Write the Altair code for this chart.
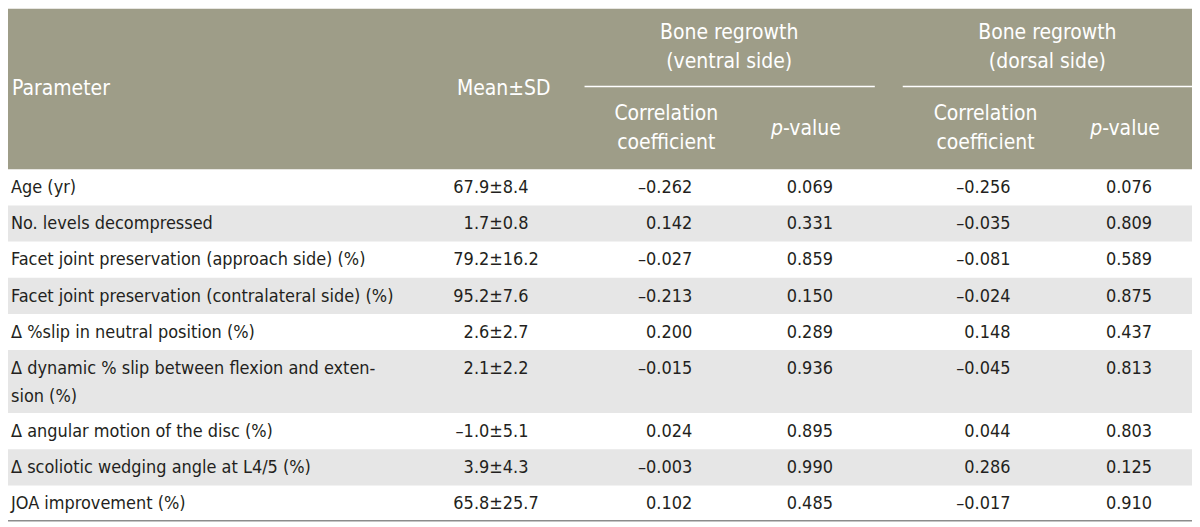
import altair as alt
import pandas as pd

# ---------------- data ----------------
parameters = [
    "Age (yr)",
    "No. levels decompressed",
    "Facet joint preservation (approach side) (%)",
    "Facet joint preservation (contralateral side) (%)",
    "Δ %slip in neutral position (%)",
    "Δ dynamic % slip between flexion and exten-\nsion (%)",
    "Δ angular motion of the disc (%)",
    "Δ scoliotic wedging angle at L4/5 (%)",
    "JOA improvement (%)",
]
means = ["67.9", "1.7", "79.2", "95.2", "2.6", "2.1", "–1.0", "3.9", "65.8"]
sds = ["8.4", "0.8", "16.2", "7.6", "2.7", "2.2", "5.1", "4.3", "25.7"]
corr_ventral = ["–0.262", "0.142", "–0.027", "–0.213", "0.200", "–0.015", "0.024", "–0.003", "0.102"]
p_ventral = ["0.069", "0.331", "0.859", "0.150", "0.289", "0.936", "0.895", "0.990", "0.485"]
corr_dorsal = ["–0.256", "–0.035", "–0.081", "–0.024", "0.148", "–0.045", "0.044", "0.286", "–0.017"]
p_dorsal = ["0.076", "0.809", "0.589", "0.875", "0.437", "0.813", "0.803", "0.125", "0.910"]

header_main = ["Parameter", "Mean±SD"]
group_titles = [["Bone regrowth", "(ventral side)"], ["Bone regrowth", "(dorsal side)"]]
sub_titles = [["Correlation", "coefficient"], ["p", "-value"]]

# ---------------- layout ----------------
HDR = "#9e9d88"
STRIPE = "#e6e6e6"
TXT = "#231f20"
BODY_FONT = "DejaVu Sans Condensed, sans-serif"
HEAD_FONT = "DejaVu Sans Condensed, sans-serif"
BODY_SIZE = 18
HEAD_SIZE = 21

LEFT, RIGHT, TOP = 8, 1195, 8     # page margin: table starts at the view origin
HEAD_BOTTOM = 169
BOTTOM = 522

xs = alt.Scale(domain=[LEFT, RIGHT], nice=False, zero=False)
ys = alt.Scale(domain=[TOP, BOTTOM], nice=False, zero=False, reverse=True)


def X(f):
    return alt.X(f, type="quantitative", scale=xs, axis=None)


def Y(f):
    return alt.Y(f, type="quantitative", scale=ys, axis=None)


# rows
row_recs, param_lines, num_cells = [], [], []
top = HEAD_BOTTOM
num_cols = [(corr_ventral, 694), (p_ventral, 835), (corr_dorsal, 1013), (p_dorsal, 1155)]
for i, p in enumerate(parameters):
    lines = p.split("\n")
    h = 9.25 + 27 * len(lines)
    row_recs.append(dict(x0=LEFT, x1=RIGHT, top=top, bottom=top + h, stripe=(i % 2 == 1)))
    for j, ln in enumerate(lines):
        param_lines.append(dict(x=11, y=top + 24 + 28.5 * j, t=ln))
    num_cells.append(dict(x=490.5, y=top + 24, t=means[i], kind="mean"))
    num_cells.append(dict(x=490.5, y=top + 24, t="±" + sds[i], kind="sd"))
    for vals, xr in num_cols:
        num_cells.append(dict(x=xr, y=top + 24, t=vals[i], kind="num"))
    top += h

rows_df = pd.DataFrame(row_recs)
stripes_df = rows_df[rows_df["stripe"]]
params_df = pd.DataFrame(param_lines)
cells_df = pd.DataFrame(num_cells)

head_bg_df = pd.DataFrame([dict(x0=LEFT, x1=RIGHT, top=TOP, bottom=HEAD_BOTTOM)])
rules_df = pd.DataFrame([dict(x0=586, x1=877, y=86), dict(x0=905, x1=RIGHT, y=86)])
bottom_df = pd.DataFrame([dict(x0=LEFT, x1=RIGHT, y=521.5)])

group_centers = [731, 1050]
corr_centers = [668, 988]
p_split = [785, 1105]

head_center = [dict(x=505, y=89, t=header_main[1])]
for g, c in enumerate(group_centers):
    head_center.append(dict(x=c, y=32, t=group_titles[g][0]))
    head_center.append(dict(x=c, y=62, t=group_titles[g][1]))
for g, c in enumerate(corr_centers):
    head_center.append(dict(x=c, y=114, t=sub_titles[0][0]))
    head_center.append(dict(x=c, y=142.5, t=sub_titles[0][1]))
head_center_df = pd.DataFrame(head_center)
head_left_df = pd.DataFrame([dict(x=12, y=89, t=header_main[0])])
head_p_df = pd.DataFrame([dict(x=s, y=128.5, t=sub_titles[1][0]) for s in p_split])
head_val_df = pd.DataFrame([dict(x=s, y=128.5, t=sub_titles[1][1]) for s in p_split])

# ---------------- marks ----------------
head_bg = alt.Chart(head_bg_df).mark_rect(color=HDR).encode(
    x=X("x0"), x2="x1", y=Y("top"), y2="bottom")
stripes = alt.Chart(stripes_df).mark_rect(color=STRIPE).encode(
    x=X("x0"), x2="x1", y=Y("top"), y2="bottom")
rules = alt.Chart(rules_df).mark_rule(color="white", strokeWidth=1.6).encode(
    x=X("x0"), x2="x1", y=Y("y"))
bottom_rule = alt.Chart(bottom_df).mark_rule(color="#8c8c8c", strokeWidth=1.5).encode(
    x=X("x0"), x2="x1", y=Y("y"))

hkw = dict(color="white", font=HEAD_FONT, fontSize=HEAD_SIZE, baseline="middle")
h_center = alt.Chart(head_center_df).mark_text(align="center", **hkw).encode(
    x=X("x"), y=Y("y"), text="t:N")
h_left = alt.Chart(head_left_df).mark_text(align="left", **hkw).encode(
    x=X("x"), y=Y("y"), text="t:N")
h_p = alt.Chart(head_p_df).mark_text(align="right", fontStyle="italic", **hkw).encode(
    x=X("x"), y=Y("y"), text="t:N")
h_val = alt.Chart(head_val_df).mark_text(align="left", **hkw).encode(
    x=X("x"), y=Y("y"), text="t:N")

bkw = dict(color=TXT, font=BODY_FONT, fontSize=BODY_SIZE, baseline="alphabetic")
b_params = alt.Chart(params_df).mark_text(align="left", **bkw).encode(
    x=X("x"), y=Y("y"), text="t:N")
b_mean = alt.Chart(cells_df[cells_df["kind"] == "mean"]).mark_text(align="right", **bkw).encode(
    x=X("x"), y=Y("y"), text="t:N")
b_sd = alt.Chart(cells_df[cells_df["kind"] == "sd"]).mark_text(align="left", **bkw).encode(
    x=X("x"), y=Y("y"), text="t:N")
b_num = alt.Chart(cells_df[cells_df["kind"] == "num"]).mark_text(align="right", **bkw).encode(
    x=X("x"), y=Y("y"), text="t:N")

chart = alt.layer(
    head_bg, stripes, rules, bottom_rule,
    h_center, h_left, h_p, h_val,
    b_params, b_mean, b_sd, b_num,
).properties(
    width=RIGHT - LEFT,
    height=BOTTOM - TOP,
    padding=0,
    autosize=alt.AutoSizeParams(type="none"),
    background="white",
).configure_view(stroke=None)

chart.save("out.html", embed_options={"renderer": "svg", "actions": False})
